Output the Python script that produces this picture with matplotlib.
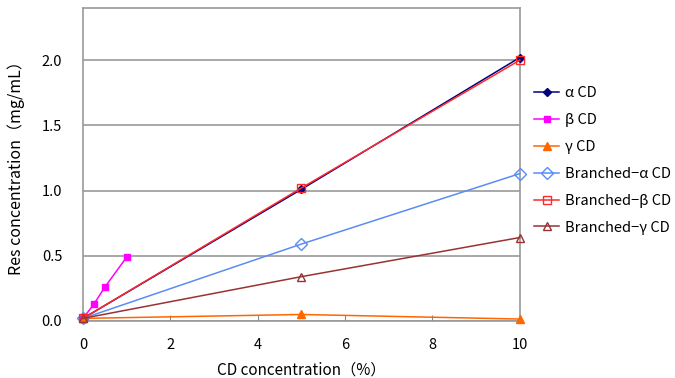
import matplotlib
matplotlib.use("Agg")
import matplotlib.pyplot as plt

plt.rcParams['font.family'] = ['Noto Sans CJK JP', 'DejaVu Sans']

# Data
x_main = [0, 5, 10]
alpha_cd = [0.02, 1.01, 2.02]
x_beta = [0, 0.25, 0.5, 1.0]
beta_cd = [0.02, 0.13, 0.26, 0.49]
gamma_cd = [0.02, 0.05, 0.015]
br_alpha = [0.02, 0.59, 1.13]
br_beta = [0.02, 1.02, 2.00]
br_gamma = [0.02, 0.34, 0.64]

labels = ["α CD", "β CD", "γ CD", "Branched−α CD", "Branched−β CD", "Branched−γ CD"]
xticks = [0, 2, 4, 6, 8, 10]
yticks = [0.0, 0.5, 1.0, 1.5, 2.0]

fig = plt.figure(figsize=(6.75, 3.78), dpi=100)
ax = fig.add_axes([0.123, 0.1508, 0.647, 0.828])

series = [
    (x_main, alpha_cd, dict(color='#000080', marker='D', markersize=4.5, markerfacecolor='#000080')),
    (x_beta, beta_cd, dict(color='#FF00FF', marker='s', markersize=4.5, markerfacecolor='#FF00FF')),
    (x_main, gamma_cd, dict(color='#FF6600', marker='^', markersize=6, markerfacecolor='#FF6600')),
    (x_main, br_alpha, dict(color='#5B8CF5', marker='D', markersize=6, markerfacecolor='none')),
    (x_main, br_beta, dict(color='#FF2A2A', marker='s', markersize=6, markerfacecolor='none')),
    (x_main, br_gamma, dict(color='#993333', marker='^', markersize=6, markerfacecolor='none')),
]
handles = []
for (xs, ys, st), lab in zip(series, labels):
    h, = ax.plot(xs, ys, linewidth=1.1, clip_on=False, zorder=3, label=lab, **st)
    handles.append(h)

ax.set_xlim(0, 10)
ax.set_ylim(0, 2.4)
ax.set_xticks(xticks)
ax.set_xticklabels([str(v) for v in xticks])
ax.set_yticks(yticks)
ax.set_yticklabels([f"{v:.1f}" for v in yticks])
ax.yaxis.grid(True, color='#999999', linewidth=1.2)
ax.set_axisbelow(True)
for s in ax.spines.values():
    s.set_color('#999999')
    s.set_linewidth(1.2)
ax.tick_params(axis='x', direction='in', length=4, color='#888888', labelsize=10.5, pad=12)
ax.tick_params(axis='y', length=0, labelsize=10.5, pad=15)

ax.set_xlabel("CD concentration（%）", fontsize=11, labelpad=7)
ax.set_ylabel("Res concentration（mg/mL）", fontsize=11.5, labelpad=12)

fig.legend(handles=handles, loc='upper left', bbox_to_anchor=(0.783, 0.787),
           frameon=False, fontsize=10.5, handlelength=1.7, labelspacing=0.88,
           handletextpad=0.4, borderaxespad=0)

fig.savefig("out.png", dpi=100)
